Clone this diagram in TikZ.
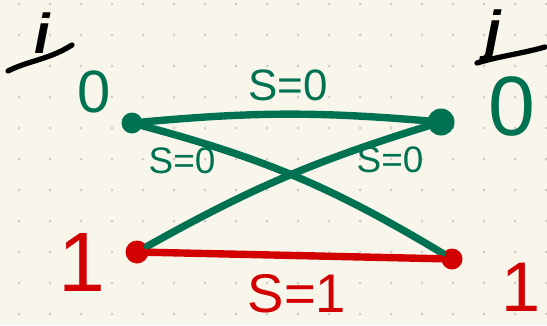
\documentclass[tikz,border=0pt]{standalone}
\usepackage{fontspec}
\setmainfont{Liberation Sans}
\usepackage{xcolor}
\definecolor{hwpaper}{RGB}{248,246,235}
\definecolor{hwdot}{RGB}{204,204,198}
\definecolor{hwgreen}{RGB}{0,114,82}
\definecolor{hwred}{RGB}{210,0,0}
\definecolor{hwink}{RGB}{0,0,0}
\usepackage{tikz}
\usetikzlibrary{positioning}

\tikzset{
  vdot/.style={circle, inner sep=0pt, minimum size=0.30cm},
  wire/.style={line width=4.2pt, line cap=round},
  inkbar/.style={line width=3pt, line cap=round, hwink},
  lbl/.style={inner sep=0pt},
}

\begin{document}
\begin{tikzpicture}[x=0.02cm, y=-0.02cm]
  % Paper and dot grid
  \fill[hwpaper] (0,0) rectangle (547,325);
  \useasboundingbox (0,0) rectangle (547,325);
  \foreach \gx in {0,...,17}
    \foreach \gy in {0,...,10}
      \fill[hwdot] (19+31*\gx, 4+31*\gy) circle (0.03cm);

  % --- Column headers ---
  \node[lbl, anchor=base, font=\fontsize{32}{32}\selectfont\bfseries\itshape] (hi) at (42,53) {i};
  \draw[inkbar] (8,71) .. controls (30,60) and (48,60) .. (72,45);
  \node[lbl, anchor=base, font=\fontsize{32}{32}\selectfont\bfseries\itshape] (hj) at (493,50) {j};
  \draw[inkbar] (477,63) .. controls (500,56) and (520,54) .. (545,47);

  % --- Bit values ---
  \node[lbl, hwgreen, font=\fontsize{34}{34}\selectfont] (li0) at (94,92) {0};
  \node[lbl, hwgreen, font=\fontsize{48}{48}\selectfont] (lj0) at (512,106) {0};
  \node[lbl, hwred, font=\fontsize{48}{48}\selectfont] (li1) at (82,262) {1};
  \node[lbl, hwred, font=\fontsize{40}{40}\selectfont] (lj1) at (521,287) {1};

  % --- Vertices ---
  \node[vdot, fill=hwgreen, minimum size=0.42cm] (g0) at (132,123) {};
  \node[vdot, fill=hwgreen, minimum size=0.54cm] (g1) at (441,122) {};
  \node[vdot, fill=hwred, minimum size=0.46cm] (r0) at (137,252) {};
  \node[vdot, fill=hwred, minimum size=0.42cm] (r1) at (452,259) {};

  % --- Connectors ---
  \draw[wire, hwgreen] (g0) to[bend left=5] (g1);
  \draw[wire, hwgreen] (g0) to[bend left=8] (r1);
  \draw[wire, hwgreen] (r0) to[bend left=6] (g1);
  \draw[wire, hwred] (r0) -- (r1);

  % --- Edge labels ---
  \node[lbl, hwgreen, font=\fontsize{25}{25}\selectfont] (s00) at (288,85) {S=0};
  \node[lbl, hwgreen, font=\fontsize{21}{21}\selectfont] (s01) at (182,161) {S=0};
  \node[lbl, hwgreen, font=\fontsize{21}{21}\selectfont] (s10) at (390,160) {S=0};
  \node[lbl, hwred, font=\fontsize{31}{31}\selectfont] (s11) at (297,294) {S=1};
\end{tikzpicture}
\end{document}
